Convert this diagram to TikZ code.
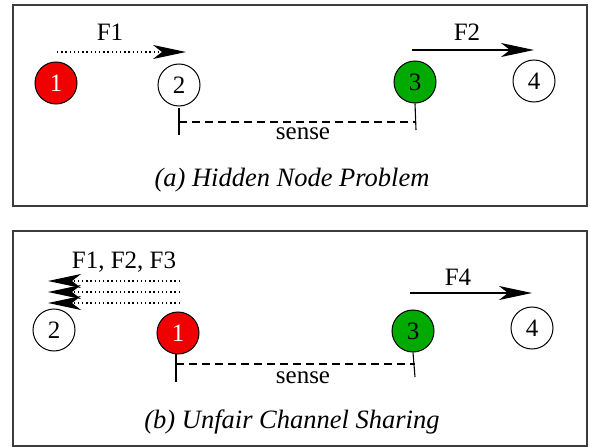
\documentclass[tikz,border=0pt]{standalone}
\usepackage{fontspec}
\setmainfont{Liberation Serif}
\usetikzlibrary{arrows.meta}
\definecolor{nodered}{RGB}{240,0,0}
\definecolor{nodegreen}{RGB}{0,170,0}
\definecolor{framegray}{RGB}{60,60,60}
\tikzset{
  station/.style={circle,draw=black,line width=1pt,minimum size=42pt,inner sep=0pt,font=\fontsize{25}{28}\selectfont},
  panel/.style={draw=framegray,line width=1.1pt},
  lbl/.style={font=\fontsize{25}{30}\selectfont,inner sep=0pt},
  captext/.style={font=\fontsize{26.5}{30}\selectfont\itshape,inner sep=0pt},
  flow/.style={line width=1.3pt,-{Stealth[length=33pt,width=14pt,inset=9pt]}},
  dotflow/.style={flow,line width=1.4pt,dash pattern=on 1.4pt off 2.8pt},
  senseline/.style={line width=1.1pt,dash pattern=on 8pt off 5pt},
  ticker/.style={line width=1.1pt}
}
\begin{document}
\begin{tikzpicture}[x=1pt,y=-1pt]
\useasboundingbox (0,0) rectangle (590,447);
% panel (a)
\draw[panel] (13,5) rectangle (587,206);
\node[station,fill=nodered,text=white] (a1) at (56,83) {1};
\node[station] (a2) at (179,85) {2};
\node[station,fill=nodegreen] (a3) at (415,82) {3};
\node[station] (a4) at (534,81) {4};
\coordinate (a1s) at (57,52);
\coordinate (a1e) at (186,52);
\coordinate (a3s) at (412,50);
\coordinate (a3e) at (534,50);
\draw[dotflow] (a1s) -- (a1e);
\draw[flow] (a3s) -- (a3e);
\node[lbl] (f1) at (110,32) {F1};
\node[lbl] (f2) at (467,32) {F2};
\coordinate (a2t) at (179,108);
\coordinate (a2b) at (179,135);
\coordinate (a2m) at (179,122);
\coordinate (a3b) at (416,130);
\coordinate (a3m) at (416,122);
\draw[ticker] (a2t) -- (a2b);
\draw[ticker] (a3.south) -- (a3b);
\draw[senseline] (a2m) -- (a3m);
\node[lbl] (sa) at (303,134) {sense};
\node[captext] (capa) at (292,180) {(a) Hidden Node Problem};
% panel (b)
\draw[panel] (13,231) rectangle (587,446);
\node[station] (b2) at (54,330) {2};
\node[station,fill=nodered,text=white] (b1) at (178,333) {1};
\node[station,fill=nodegreen] (b3) at (413,331) {3};
\node[station] (b4) at (532,328) {4};
\coordinate (bs1) at (180,281);
\coordinate (be1) at (48,281);
\coordinate (bs2) at (180,292);
\coordinate (be2) at (48,292);
\coordinate (bs3) at (180,303);
\coordinate (be3) at (48,303);
\draw[dotflow] (bs1) -- (be1);
\draw[dotflow] (bs2) -- (be2);
\draw[dotflow] (bs3) -- (be3);
\node[lbl] (f123) at (124,262) {F1, F2, F3};
\coordinate (b3s) at (410,293);
\coordinate (b3e) at (532,293);
\draw[flow] (b3s) -- (b3e);
\node[lbl] (f4) at (458,277) {F4};
\coordinate (b1t) at (176,354);
\coordinate (b1b) at (176,382);
\coordinate (b1m) at (176,364);
\coordinate (b3b) at (415,377);
\coordinate (b3m) at (415,364);
\draw[ticker] (b1t) -- (b1b);
\draw[ticker] (b3.south) -- (b3b);
\draw[senseline] (b1m) -- (b3m);
\node[lbl] (sb) at (303,378) {sense};
\node[captext] (capb) at (292,422) {(b) Unfair Channel Sharing};
\end{tikzpicture}
\end{document}
